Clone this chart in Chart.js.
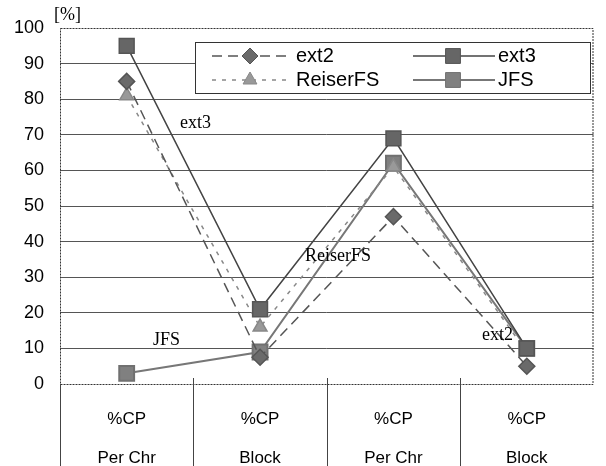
<!DOCTYPE html>
<html>
<head>
<meta charset="utf-8">
<script src="https://cdn.jsdelivr.net/npm/chart.js@4/dist/chart.umd.min.js"></script>
<style>
  body { margin: 0; background: #fff; }
  canvas { display: block; }
</style>
</head>
<body>
<canvas id="fsChart" width="606" height="466"></canvas>
<script>
// categories (two-line labels) and series values
const categories = [['%CP', 'Per Chr'], ['%CP', 'Block'], ['%CP', 'Per Chr'], ['%CP', 'Block']];
const ext2Values = [85, 7.5, 47, 5];
const ext3Values = [95, 21, 69, 10];
const reiserValues = [81, 16, 61, 9];
const jfsValues = [3, 9, 62, 10];
const seriesNames = ['ext2', 'ext3', 'ReiserFS', 'JFS'];
const unitLabel = '[%]';

// in-plot labels next to the lines
const lineNotes = [
    { text: 'ext3', x: 180, y: 123 },
    { text: 'ReiserFS', x: 305, y: 256 },
    { text: 'JFS', x: 153, y: 340 },
    { text: 'ext2', x: 482, y: 335 }
];

// legend box, divider lines, dotted borders and side texts
const decorPlugin = {
    id: 'decor',
    afterDraw(chart) {
        const ctx = chart.ctx;
        const area = chart.chartArea;
        const xScale = chart.scales.x;
        ctx.save();

        // dotted plot border
        ctx.strokeStyle = '#333';
        ctx.lineWidth = 1;
        ctx.setLineDash([2, 1]);
        ctx.beginPath();
        ctx.moveTo(area.left + 0.5, area.top + 0.5);
        ctx.lineTo(area.right - 0.5, area.top + 0.5);
        ctx.lineTo(area.right - 0.5, area.bottom + 0.5);
        ctx.lineTo(area.left + 0.5, area.bottom + 0.5);
        ctx.closePath();
        ctx.stroke();
        ctx.setLineDash([]);

        // category dividers under the axis
        ctx.strokeStyle = '#444';
        const step = (area.right - area.left) / categories.length;
        for (let i = 0; i < categories.length; i++) {
            const x = Math.round(area.left + i * step) + 0.5;
            ctx.beginPath();
            ctx.moveTo(x, i === 0 ? area.bottom : area.bottom - 6);
            ctx.lineTo(x, chart.height);
            ctx.stroke();
        }

        // unit label
        ctx.fillStyle = '#000';
        ctx.font = '18px "Liberation Serif"';
        ctx.textBaseline = 'middle';
        ctx.textAlign = 'left';
        ctx.fillText(unitLabel, 54, 15);

        // line notes
        ctx.font = '18px "Liberation Serif"';
        lineNotes.forEach(n => ctx.fillText(n.text, n.x, n.y));

        // legend
        ctx.fillStyle = '#fff';
        ctx.fillRect(195, 42, 395, 51);
        ctx.strokeStyle = '#333';
        ctx.strokeRect(195.5, 42.5, 395, 51);
        const slots = [
            { x1: 212, x2: 287, mx: 250, tx: 296, y: 56 },
            { x1: 413, x2: 495, mx: 453, tx: 498, y: 56 },
            { x1: 212, x2: 287, mx: 250, tx: 296, y: 80 },
            { x1: 413, x2: 495, mx: 453, tx: 498, y: 80 }
        ];
        chart.data.datasets.forEach((ds, i) => {
            const s = slots[i];
            ctx.strokeStyle = ds.borderColor;
            ctx.lineWidth = ds.borderWidth;
            ctx.setLineDash(ds.borderDash || []);
            ctx.beginPath();
            ctx.moveTo(s.x1, s.y);
            ctx.lineTo(s.x2, s.y);
            ctx.stroke();
            ctx.setLineDash([]);
            ctx.fillStyle = ds.pointBackgroundColor;
            ctx.strokeStyle = ds.pointBorderColor;
            ctx.lineWidth = 1;
            Chart.helpers.drawPoint(ctx, { pointStyle: ds.pointStyle, radius: ds.pointRadius, rotation: 0, borderWidth: 1 }, s.mx, s.y);
            ctx.fillStyle = '#000';
            ctx.font = '20px "Liberation Sans"';
            ctx.textBaseline = 'middle';
            ctx.fillText(ds.label, s.tx, s.y);
        });

        ctx.restore();
    }
};

Chart.defaults.font.family = '"Liberation Sans", Arial, sans-serif';
Chart.defaults.color = '#000';

const ctx = document.getElementById('fsChart').getContext('2d');
new Chart(ctx, {
    type: 'line',
    data: {
        labels: categories,
        datasets: [
            {
                label: seriesNames[0],
                data: ext2Values,
                borderColor: '#555',
                borderWidth: 1.5,
                borderDash: [10, 6],
                pointStyle: 'rectRot',
                pointRadius: 8,
                pointBackgroundColor: '#6a6a6a',
                pointBorderColor: '#555'
            },
            {
                label: seriesNames[1],
                data: ext3Values,
                borderColor: '#444',
                borderWidth: 1.5,
                pointStyle: 'rect',
                pointRadius: 10.5,
                pointBackgroundColor: '#666',
                pointBorderColor: '#555'
            },
            {
                label: seriesNames[2],
                data: reiserValues,
                borderColor: '#888',
                borderWidth: 1.5,
                borderDash: [4, 6],
                pointStyle: 'triangle',
                pointRadius: 8,
                pointBackgroundColor: '#999',
                pointBorderColor: '#888'
            },
            {
                label: seriesNames[3],
                data: jfsValues,
                borderColor: '#777',
                borderWidth: 2,
                pointStyle: 'rect',
                pointRadius: 10.5,
                pointBackgroundColor: '#808080',
                pointBorderColor: '#707070'
            }
        ]
    },
    options: {
        responsive: false,
        animation: false,
        devicePixelRatio: 1,
        layout: {
            padding: { top: 28, right: 1, left: 0, bottom: 0 }
        },
        scales: {
            x: {
                offset: true,
                grid: { display: false },
                border: { display: false },
                ticks: {
                    font: { size: 17, lineHeight: 2.3 },
                    padding: 8,
                    maxRotation: 0,
                    autoSkip: false
                },
                afterFit(scale) { scale.height = 82; }
            },
            y: {
                min: 0,
                max: 100,
                border: { display: false },
                grid: {
                    drawTicks: false,
                    color: ctx => (ctx.tick && (ctx.tick.value === 0 || ctx.tick.value === 100)) ? 'rgba(0,0,0,0)' : '#555',
                    lineWidth: 1
                },
                ticks: {
                    stepSize: 10,
                    font: { size: 18 },
                    padding: 16
                },
                afterFit(scale) { scale.width = 60; }
            }
        },
        plugins: {
            legend: { display: false },
            tooltip: { enabled: false }
        }
    },
    plugins: [decorPlugin]
});
</script>
</body>
</html>
